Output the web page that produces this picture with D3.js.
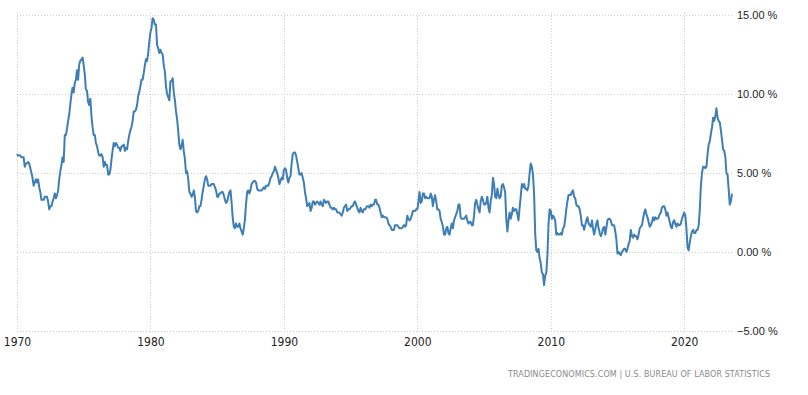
<!DOCTYPE html>
<html>
<head>
<meta charset="utf-8">
<script src="https://cdn.jsdelivr.net/npm/d3@7"></script>
<style>
  body { margin: 0; background: #fff; }
  .grid line { stroke: #cfcfcf; stroke-dasharray: 1,2; }
  .axis text { font-family: "Liberation Sans", Arial, sans-serif; fill: #222; }
</style>
</head>
<body>
<script>
// US inflation rate, year over year, monthly (Jan 1970 - Aug 2023)
const startYear = 1970;
const rates = [
  [6.2, 6.1, 6.1, 6.1, 6.0, 6.0, 6.0, 5.4, 5.6, 5.6, 5.7, 5.6],
  [5.3, 5.0, 4.7, 4.2, 4.4, 4.6, 4.4, 4.6, 4.1, 3.8, 3.3, 3.3],
  [3.3, 3.5, 3.5, 3.5, 3.2, 2.7, 2.9, 2.9, 3.2, 3.4, 3.7, 3.4],
  [3.6, 3.9, 4.6, 5.1, 5.5, 6.0, 5.7, 7.4, 7.4, 7.8, 8.3, 8.7],
  [9.4, 10.0, 10.4, 10.1, 10.7, 10.9, 11.5, 10.9, 11.9, 12.1, 12.2, 12.3],
  [11.8, 11.2, 10.3, 10.2, 9.5, 9.3, 9.7, 8.6, 7.9, 7.4, 7.4, 6.9],
  [6.7, 6.3, 6.1, 6.1, 6.2, 6.0, 5.4, 5.7, 5.5, 5.5, 4.9, 4.9],
  [5.2, 5.9, 6.4, 6.9, 6.7, 6.9, 6.8, 6.6, 6.6, 6.4, 6.7, 6.7],
  [6.8, 6.4, 6.6, 6.5, 7.0, 7.4, 7.7, 7.9, 8.3, 8.9, 8.9, 9.0],
  [9.3, 9.9, 10.1, 10.5, 10.9, 10.9, 11.3, 11.8, 12.2, 12.1, 12.6, 13.3],
  [13.9, 14.2, 14.8, 14.7, 14.4, 14.4, 13.1, 12.9, 12.6, 12.8, 12.6, 12.5],
  [11.8, 11.4, 10.5, 10.0, 9.8, 9.6, 10.8, 10.8, 11.0, 10.1, 9.6, 8.9],
  [8.4, 7.6, 6.8, 6.5, 6.7, 7.1, 6.4, 5.9, 5.0, 5.1, 4.6, 3.8],
  [3.7, 3.5, 3.6, 3.9, 3.5, 2.6, 2.5, 2.6, 2.9, 2.9, 3.3, 3.8],
  [4.2, 4.6, 4.8, 4.6, 4.2, 4.2, 4.2, 4.3, 4.3, 4.3, 4.1, 3.9],
  [3.5, 3.5, 3.7, 3.7, 3.8, 3.8, 3.6, 3.3, 3.1, 3.2, 3.5, 3.8],
  [3.9, 3.1, 2.2, 1.6, 1.5, 1.8, 1.6, 1.6, 1.8, 1.5, 1.3, 1.1],
  [1.5, 2.1, 3.0, 3.8, 3.9, 3.7, 3.9, 4.3, 4.4, 4.5, 4.5, 4.4],
  [4.0, 3.9, 3.9, 3.9, 3.9, 4.0, 4.1, 4.0, 4.2, 4.2, 4.2, 4.4],
  [4.7, 4.8, 5.0, 5.1, 5.4, 5.2, 5.0, 4.7, 4.3, 4.5, 4.7, 4.6],
  [5.2, 5.3, 5.2, 4.7, 4.4, 4.7, 4.8, 5.6, 6.2, 6.3, 6.3, 6.1],
  [5.7, 5.3, 4.9, 4.9, 5.0, 4.7, 4.4, 3.8, 3.4, 2.9, 3.0, 3.1],
  [2.6, 2.8, 3.2, 3.2, 3.0, 3.1, 3.2, 3.1, 3.0, 3.2, 3.0, 2.9],
  [3.3, 3.2, 3.1, 3.2, 3.2, 3.0, 2.8, 2.8, 2.7, 2.8, 2.7, 2.7],
  [2.5, 2.5, 2.5, 2.4, 2.3, 2.5, 2.8, 2.9, 3.0, 2.6, 2.7, 2.7],
  [2.8, 2.9, 2.9, 3.1, 3.2, 3.0, 2.8, 2.6, 2.5, 2.8, 2.6, 2.5],
  [2.7, 2.7, 2.8, 2.9, 2.9, 2.8, 3.0, 2.9, 3.0, 3.0, 3.3, 3.3],
  [3.0, 3.0, 2.8, 2.5, 2.2, 2.3, 2.2, 2.2, 2.2, 2.1, 1.8, 1.7],
  [1.6, 1.4, 1.4, 1.4, 1.7, 1.7, 1.7, 1.6, 1.5, 1.5, 1.5, 1.6],
  [1.7, 1.6, 1.7, 2.3, 2.1, 2.0, 2.1, 2.3, 2.6, 2.6, 2.6, 2.7],
  [2.7, 3.2, 3.8, 3.1, 3.2, 3.7, 3.7, 3.4, 3.5, 3.4, 3.4, 3.4],
  [3.7, 3.5, 2.9, 3.3, 3.6, 3.2, 2.7, 2.7, 2.6, 2.1, 1.9, 1.6],
  [1.1, 1.1, 1.5, 1.6, 1.2, 1.1, 1.5, 1.8, 1.5, 2.0, 2.2, 2.4],
  [2.6, 3.0, 3.0, 2.2, 2.1, 2.1, 2.1, 2.2, 2.3, 2.0, 1.8, 1.9],
  [1.9, 1.7, 1.7, 2.3, 3.1, 3.3, 3.0, 2.7, 2.5, 3.2, 3.5, 3.3],
  [3.0, 3.0, 3.1, 3.5, 2.8, 2.5, 3.2, 3.6, 4.7, 4.3, 3.5, 3.4],
  [4.0, 3.6, 3.4, 3.5, 4.2, 4.3, 4.1, 3.8, 2.1, 1.3, 2.0, 2.5],
  [2.1, 2.4, 2.8, 2.6, 2.7, 2.7, 2.4, 2.0, 2.8, 3.5, 4.3, 4.1],
  [4.3, 4.0, 4.0, 3.9, 4.2, 5.0, 5.6, 5.4, 4.9, 3.7, 1.1, 0.1],
  [0.0, 0.2, -0.4, -0.7, -1.3, -1.4, -2.1, -1.5, -1.3, -0.2, 1.8, 2.7],
  [2.6, 2.1, 2.3, 2.2, 2.0, 1.1, 1.2, 1.1, 1.1, 1.2, 1.1, 1.5],
  [1.6, 2.1, 2.7, 3.2, 3.6, 3.6, 3.6, 3.8, 3.9, 3.5, 3.4, 3.0],
  [2.9, 2.9, 2.7, 2.3, 1.7, 1.7, 1.4, 1.7, 2.0, 2.2, 1.8, 1.7],
  [1.6, 2.0, 1.5, 1.1, 1.4, 1.8, 2.0, 1.5, 1.2, 1.0, 1.2, 1.5],
  [1.6, 1.1, 1.5, 2.0, 2.1, 2.1, 2.0, 1.7, 1.7, 1.7, 1.3, 0.8],
  [-0.1, 0.0, -0.1, -0.2, 0.0, 0.1, 0.2, 0.2, 0.0, 0.2, 0.5, 0.7],
  [1.4, 1.0, 0.9, 1.1, 1.0, 1.0, 0.8, 1.1, 1.5, 1.6, 1.7, 2.1],
  [2.5, 2.7, 2.4, 2.2, 1.9, 1.6, 1.7, 1.9, 2.2, 2.0, 2.2, 2.1],
  [2.1, 2.2, 2.4, 2.5, 2.8, 2.9, 2.9, 2.7, 2.3, 2.5, 2.2, 1.9],
  [1.6, 1.5, 1.9, 2.0, 1.8, 1.6, 1.8, 1.7, 1.7, 1.8, 2.1, 2.3],
  [2.5, 2.3, 1.5, 0.3, 0.1, 0.6, 1.0, 1.3, 1.4, 1.2, 1.2, 1.4],
  [1.4, 1.7, 2.6, 4.2, 5.0, 5.4, 5.4, 5.3, 5.4, 6.2, 6.8, 7.0],
  [7.5, 7.9, 8.5, 8.3, 8.6, 9.1, 8.5, 8.3, 8.2, 7.7, 7.1, 6.5],
  [6.4, 6.0, 5.0, 4.9, 4.0, 3.0, 3.2, 3.7]
];
const yearTicks = [1970, 1980, 1990, 2000, 2010, 2020];
const yTicks = [15, 10, 5, 0, -5];
const source = "TRADINGECONOMICS.COM  |  U.S. BUREAU OF LABOR STATISTICS";

const data = [];
rates.forEach((row, i) => {
  row.forEach((v, m) => data.push({ date: new Date(startYear + i, m, 1), value: v }));
});

const width = 808, height = 395;
const plotLeft = 17, plotRight = 732, plotTop = 15, plotBottom = 331;

const svg = d3.select("body").append("svg")
  .attr("width", width)
  .attr("height", height);

const x = d3.scaleTime()
  .domain([new Date(1970, 0, 1), data[data.length - 1].date])
  .range([plotLeft, plotRight]);

const y = d3.scaleLinear()
  .domain([-5, 15])
  .range([plotBottom, plotTop]);

// grid
const grid = svg.append("g").attr("class", "grid");
grid.selectAll(".h")
  .data(yTicks)
  .enter().append("line")
  .attr("x1", plotLeft).attr("x2", plotRight)
  .attr("y1", d => Math.round(y(d)) + 0.5)
  .attr("y2", d => Math.round(y(d)) + 0.5);
grid.selectAll(".v")
  .data(yearTicks)
  .enter().append("line")
  .attr("x1", d => Math.round(x(new Date(d, 0, 1))) + 0.5)
  .attr("x2", d => Math.round(x(new Date(d, 0, 1))) + 0.5)
  .attr("y1", plotTop - 2).attr("y2", plotBottom + 2);

// y labels on the right
const yAxis = d3.axisRight(y)
  .tickValues(yTicks)
  .tickSize(0)
  .tickPadding(0)
  .tickFormat(d => d3.format(".2f")(d) + " %");
svg.append("g")
  .attr("class", "axis")
  .attr("transform", `translate(${plotRight + 5},0)`)
  .call(yAxis)
  .call(g => g.select(".domain").remove())
  .selectAll("text").style("font-size", "11px");

// x labels
const xAxis = d3.axisBottom(x)
  .tickValues(yearTicks.map(d => new Date(d, 0, 1)))
  .tickSize(0)
  .tickPadding(0)
  .tickFormat(d3.timeFormat("%Y"));
svg.append("g")
  .attr("class", "axis")
  .attr("transform", `translate(0,${plotBottom + 6})`)
  .call(xAxis)
  .call(g => g.select(".domain").remove())
  .selectAll("text")
  .style("font-family", "'Liberation Sans Narrow', 'DejaVu Sans Condensed', sans-serif")
  .style("font-size", "12px");

// line
const line = d3.line()
  .x(d => x(d.date))
  .y(d => y(d.value));

svg.append("path")
  .datum(data)
  .attr("fill", "none")
  .attr("stroke", "#3d7eb6")
  .attr("stroke-width", 2)
  .attr("stroke-linejoin", "round")
  .attr("d", line);

// source
svg.append("text")
  .attr("x", 770)
  .attr("y", 377)
  .attr("text-anchor", "end")
  .attr("textLength", 262)
  .style("font-family", "'DejaVu Sans', sans-serif")
  .style("font-size", "8px")
  .style("fill", "#8a8a8a")
  .text(source);
</script>
</body>
</html>
